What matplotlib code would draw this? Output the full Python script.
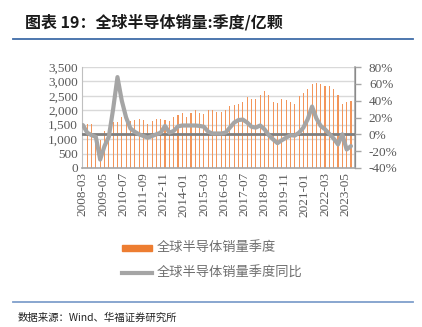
import matplotlib
matplotlib.use("Agg")
import matplotlib.pyplot as plt
import pandas as pd
from matplotlib.lines import Line2D
from matplotlib.patches import Rectangle
from matplotlib.ticker import FuncFormatter, FixedLocator, MultipleLocator

plt.rcParams['font.family'] = ['Noto Sans CJK SC', 'DejaVu Sans']

# Quarter-end months, 2008-03 .. 2023-09
quarters = pd.period_range("2008-03", "2023-09", freq="M")[::3]

# Global semiconductor unit shipments per quarter (100 million units)
units = [
    1450, 1510, 1520, 1150,
    960, 1270, 1370, 1590,
    1600, 1770, 1710, 1620,
    1650, 1690, 1670, 1540,
    1620, 1710, 1710, 1650,
    1620, 1770, 1850, 1900,
    1770, 1920, 2000, 1920,
    1880, 2000, 2000, 1940,
    1940, 2000, 2150, 2170,
    2230, 2290, 2460, 2400,
    2380, 2540, 2660, 2540,
    2290, 2250, 2400, 2370,
    2290, 2230, 2490, 2610,
    2750, 2900, 2950, 2900,
    2840, 2830, 2750, 2520,
    2230, 2290, 2320,
]

# Year-over-year change (%)
yoy = [
    11, 2, -1, -3,
    -30, -14, -3, 30,
    68, 40, 20, 7,
    3, 0, -2, -4,
    -2, 0, 2, 10,
    2, 4, 9.5, 10.5,
    10.5, 10.5, 10.5, 10,
    9, 3, 1, 1,
    1, 2, 8, 14,
    17, 17.5, 14, 9,
    8, 10.5, 6, -1,
    -6, -10.5, -7, -4,
    -1, -1.5, 2, 8,
    18, 33, 19, 10,
    6, 0.5, -5, -12,
    0, -18, -14,
]

tick_labels = ["2008-03", "2009-05", "2010-07", "2011-09", "2012-11", "2014-01",
               "2015-03", "2016-05", "2017-07", "2018-09", "2019-11", "2021-01",
               "2022-03", "2023-05"]

bar_name = "全球半导体销量季度"
line_name = "全球半导体销量季度同比"
title = "图表 19：全球半导体销量:季度/亿颗"
source = "数据来源：Wind、华福证券研究所"

start = quarters[0].ordinal
x = [q.ordinal - start for q in quarters]
tick_pos = [pd.Period(t, freq="M").ordinal - start for t in tick_labels]

W, H = 422, 327
fig = plt.figure(figsize=(W / 100, H / 100), dpi=100)

ax = fig.add_axes([82 / W, 1 - 168 / H, (355 - 82) / W, (168 - 67) / H])
ax2 = ax.twinx()

grey_txt = "#595959"
tick_font = dict(family="Liberation Serif", size=9.5, color=grey_txt)

# Bars: quarterly units
ax.bar(x, units, width=0.75, color="#F2955A", linewidth=0, zorder=2)
ax.set_ylim(0, 3500)
ax.yaxis.set_major_locator(MultipleLocator(500))
ax.yaxis.set_major_formatter(FuncFormatter(lambda v, p: f"{int(v):,}"))
ax.grid(axis="y", color="#D9D9D9", linewidth=1.0, zorder=0)
ax.set_axisbelow(True)
ax.set_xlim(-0.6, 188.8)
ax.xaxis.set_major_locator(FixedLocator(tick_pos))
ax.set_xticklabels(tick_labels, rotation=90, fontdict=tick_font)
for lbl in ax.get_yticklabels():
    lbl.set_fontfamily("Liberation Serif")
    lbl.set_fontsize(9.5)
    lbl.set_color(grey_txt)
ax.tick_params(axis="both", length=0, pad=3)

# Line: year-over-year change
ax2.axhline(0, color="#7F7F7F", linewidth=2.0, zorder=3)
ax2.plot(x, yoy, color="#A5A5A5", linewidth=3.0, solid_joinstyle="round",
         solid_capstyle="round", zorder=4)
ax2.set_ylim(-40, 80)
ax2.yaxis.set_major_locator(MultipleLocator(20))
ax2.yaxis.set_major_formatter(FuncFormatter(lambda v, p: f"{int(v)}%"))
for lbl in ax2.get_yticklabels():
    lbl.set_fontfamily("Liberation Serif")
    lbl.set_fontsize(9.5)
    lbl.set_color(grey_txt)
ax2.tick_params(axis="y", length=4, width=1.0, color="#A6A6A6", pad=6)

for a in (ax, ax2):
    a.spines["top"].set_visible(False)
ax.spines["left"].set_color("#BFBFBF")
ax.spines["bottom"].set_color("#A6A6A6")
ax.spines["bottom"].set_linewidth(1.2)
ax2.spines["right"].set_color("#A6A6A6")
ax2.spines["right"].set_linewidth(1.2)
ax2.spines["left"].set_visible(False)
ax2.spines["bottom"].set_visible(False)

# Title and rules
fig.text(25 / W, 1 - 22 / H, title, fontsize=11.5, fontweight="bold",
         color="#1A1A1A", va="center", ha="left")
fig.add_artist(Line2D([13 / W, 413 / W], [1 - 39 / H, 1 - 39 / H],
                      color="#3F6CA8", linewidth=1.3))
fig.add_artist(Line2D([13 / W, 413 / W], [1 - 302 / H, 1 - 302 / H],
                      color="#7F9FCC", linewidth=1.3))
fig.text(18 / W, 1 - 318 / H, source, fontsize=7.5, color="#222222",
         va="center", ha="left")

# Legend
fig.add_artist(Rectangle((122 / W, 1 - 251 / H), 30 / W, 6 / H,
                         color="#ED7D31", transform=fig.transFigure))
fig.text(157 / W, 1 - 248 / H, bar_name, fontsize=9.5, color="#6E6E6E",
         va="center", ha="left")
fig.add_artist(Line2D([122 / W, 152 / W], [1 - 273 / H, 1 - 273 / H],
                      color="#A5A5A5", linewidth=3.0))
fig.text(157 / W, 1 - 273 / H, line_name, fontsize=9.5, color="#6E6E6E",
         va="center", ha="left")

fig.savefig("out.png", dpi=100)
